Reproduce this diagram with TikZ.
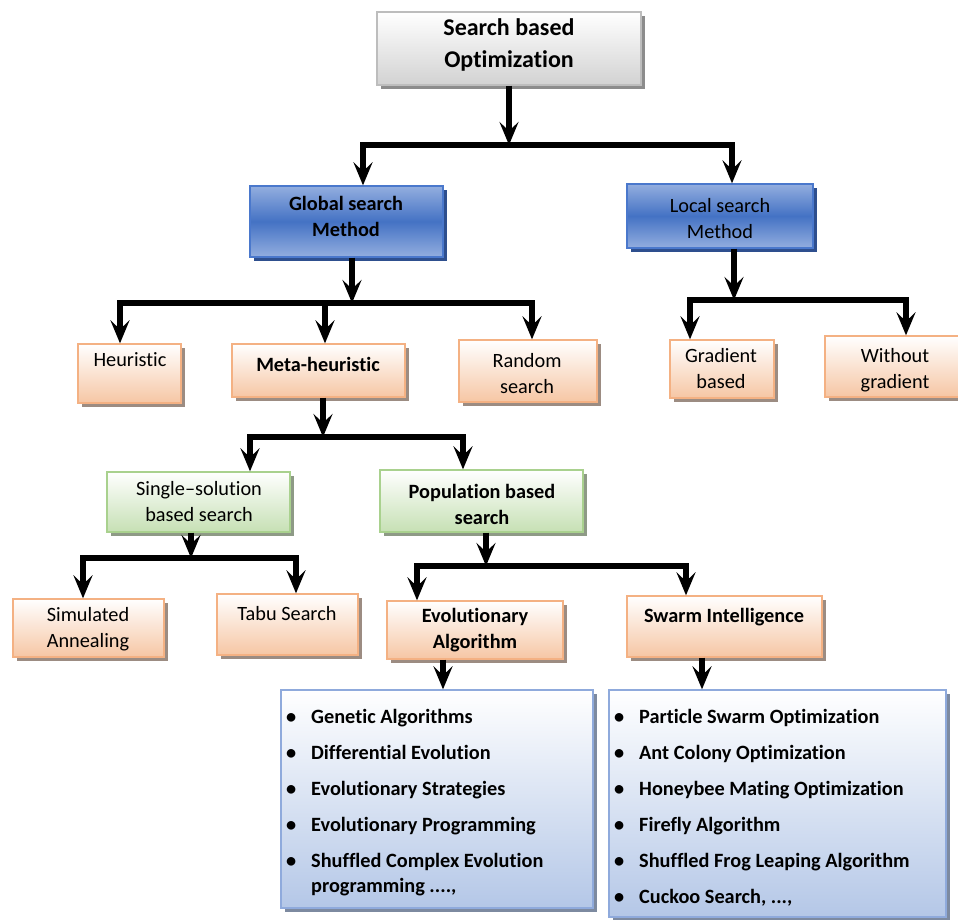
\documentclass[tikz,border=0pt]{standalone}
\usepackage{fontspec}
\setmainfont{Carlito}[Ligatures=NoCommon]
\usetikzlibrary{arrows.meta,shadows}
\definecolor{grayB}{HTML}{BDBDBD}
\definecolor{grayF}{HTML}{D2D2D2}
\definecolor{blueL}{HTML}{93AEDF}
\definecolor{blueD}{HTML}{4472C4}
\definecolor{blueB}{HTML}{4A78CC}
\definecolor{blueS}{HTML}{2E4F8E}
\definecolor{orF}{HTML}{F6C6A4}
\definecolor{orB}{HTML}{F4B183}
\definecolor{orS}{HTML}{9C8C82}
\definecolor{grF}{HTML}{C6E0B4}
\definecolor{grB}{HTML}{A9D18E}
\definecolor{grS}{HTML}{8E9A86}
\definecolor{liF}{HTML}{B4C7E7}
\definecolor{liB}{HTML}{8FAADC}
\definecolor{liS}{HTML}{7D8AA0}
\begin{document}
\begin{tikzpicture}[x=1pt,y=-1pt,
  box/.style={rectangle, draw, line width=1.3pt, inner sep=0pt},
  topbox/.style={box, draw=grayB, top color=white, bottom color=grayF,
    drop shadow={shadow xshift=4pt, shadow yshift=-4pt, fill=black!45, opacity=1}},
  bluebox/.style={box, draw=blueB, top color=blueL, bottom color=blueL, middle color=blueD,
    drop shadow={shadow xshift=4pt, shadow yshift=-4pt, fill=blueS, opacity=1}},
  orbox/.style={box, draw=orB, top color=white, bottom color=orF,
    drop shadow={shadow xshift=4pt, shadow yshift=-4pt, fill=orS, opacity=1}},
  grbox/.style={box, draw=grB, top color=white, bottom color=grF,
    drop shadow={shadow xshift=4pt, shadow yshift=-4pt, fill=grS, opacity=1}},
  libox/.style={box, draw=liB, top color=white, bottom color=liF,
    drop shadow={shadow xshift=4pt, shadow yshift=-4pt, fill=liS, opacity=1}},
  tx/.style={align=center, inner sep=0pt, font=\fontsize{20.3}{26}\selectfont},
  txb/.style={tx, font=\fontsize{20.3}{26}\selectfont\bfseries},
  arr/.style={line width=6pt, draw=black, line join=miter,
    -{Stealth[length=23pt,width=19pt,inset=9pt]}}
]
\fill[white] (0,0) rectangle (958,920);
\useasboundingbox (0,0) rectangle (958,920);

% boxes
\node[topbox, minimum width=264pt, minimum height=73pt] (top) at (509,48.5) {};
\node[bluebox, minimum width=193pt, minimum height=71pt] (glob) at (346.5,221.5) {};
\node[bluebox, minimum width=186pt, minimum height=64pt] (loc) at (720,216) {};
\node[orbox, minimum width=103pt, minimum height=59pt] (heur) at (129.5,373.5) {};
\node[orbox, minimum width=173pt, minimum height=53pt] (meta) at (318.5,370.5) {};
\node[orbox, minimum width=138pt, minimum height=62pt] (rand) at (528,371) {};
\node[orbox, minimum width=104pt, minimum height=58pt] (grad) at (722,369) {};
\node[orbox, minimum width=142pt, minimum height=61pt] (wgrad) at (896,366.5) {};
\node[grbox, minimum width=183pt, minimum height=60pt] (single) at (198.5,502) {};
\node[grbox, minimum width=203pt, minimum height=62pt] (pop) at (481.5,501) {};
\node[orbox, minimum width=151pt, minimum height=58pt] (sim) at (88.5,628) {};
\node[orbox, minimum width=141pt, minimum height=61pt] (tabu) at (287.5,624.5) {};
\node[orbox, minimum width=176pt, minimum height=58pt] (evo) at (475,630) {};
\node[orbox, minimum width=195pt, minimum height=61pt] (swarm) at (724.5,626.5) {};
\node[libox, minimum width=312pt, minimum height=218pt] (evl) at (437,799) {};
\node[libox, minimum width=337pt, minimum height=227pt] (swl) at (777.5,803.5) {};

% texts
\node[tx, font=\fontsize{24}{32}\selectfont\bfseries] (topT) at (509,45) {Search based\\Optimization};
\node[txb] (globT) at (346,216) {Global search\\Method};
\node[tx] (locT) at (720,219) {Local search\\Method};
\node[tx] (heurT) at (130,360) {Heuristic};
\node[txb] (metaT) at (318,364) {Meta-heuristic};
\node[tx] (randT) at (527,374) {Random\\search};
\node[tx] (gradT) at (721,369) {Gradient\\based};
\node[tx] (wgradT) at (895,370) {Without\\gradient};
\node[tx] (singleT) at (199,502) {Single–solution\\based search};
\node[txb] (popT) at (482,504) {Population based\\search};
\node[tx] (simT) at (88,629) {Simulated\\Annealing};
\node[tx] (tabuT) at (287,614) {Tabu Search};
\node[txb] (evoT) at (475,630) {Evolutionary\\Algorithm};
\node[txb] (swarmT) at (724,617) {Swarm Intelligence};

\node[anchor=base west, inner sep=0pt, font=\fontsize{20.3}{26}\selectfont\bfseries] (evlT) at (286,723)
 {\begin{tabular}[t]{@{}l@{}l@{}}
 \makebox[25pt][l]{•} & Genetic Algorithms\\[10pt]
 \makebox[25pt][l]{•} & Differential Evolution\\[10pt]
 \makebox[25pt][l]{•} & Evolutionary Strategies\\[10pt]
 \makebox[25pt][l]{•} & Evolutionary Programming\\[10pt]
 \makebox[25pt][l]{•} & Shuffled Complex Evolution\\[-1pt]
  & programming ....,
 \end{tabular}};
\node[anchor=base west, inner sep=0pt, font=\fontsize{20.3}{26}\selectfont\bfseries] (swlT) at (614,723)
 {\begin{tabular}[t]{@{}l@{}l@{}}
 \makebox[25pt][l]{•} & Particle Swarm Optimization\\[10pt]
 \makebox[25pt][l]{•} & Ant Colony Optimization\\[10pt]
 \makebox[25pt][l]{•} & Honeybee Mating Optimization\\[10pt]
 \makebox[25pt][l]{•} & Firefly Algorithm\\[10pt]
 \makebox[25pt][l]{•} & Shuffled Frog Leaping Algorithm\\[10pt]
 \makebox[25pt][l]{•} & Cuckoo Search, ...,
 \end{tabular}};

% junctions
\coordinate (j1) at (509,145);
\coordinate (j2) at (352,303);
\coordinate (j3) at (734,300);
\coordinate (j4) at (323,437);
\coordinate (j5) at (191,558);
\coordinate (j6) at (486,566);

% connectors
\draw[arr] (top.south -| j1) -- (j1);
\draw[arr] (j1) -| (glob.north -| 363,0);
\draw[arr] (j1) -| (loc.north -| 732,0);

\draw[arr] (glob.south -| j2) -- (j2);
\draw[arr] (j2) -| (heur.north -| 120,0);
\draw[arr] (j2) -| (meta.north -| 325,0);
\draw[arr] (j2) -| (rand.north -| 532,0);

\draw[arr] (loc.south -| j3) -- (j3);
\draw[arr] (j3) -| (grad.north -| 690,0);
\draw[arr] (j3) -| (wgrad.north -| 906,0);

\draw[arr] (meta.south -| j4) -- (j4);
\draw[arr] (j4) -| (single.north -| 250,0);
\draw[arr] (j4) -| (pop.north -| 463,0);

\draw[arr] (single.south -| j5) -- (j5);
\draw[arr] (j5) -| (sim.north -| 83,0);
\draw[arr] (j5) -| (tabu.north -| 296,0);

\draw[arr] (pop.south -| j6) -- (j6);
\draw[arr] (j6) -| (evo.north -| 417,0);
\draw[arr] (j6) -| (swarm.north -| 686,0);

\draw[arr] (evo.south -| 443,0) -- (evl.north -| 443,0);
\draw[arr] (swarm.south -| 702,0) -- (swl.north -| 702,0);
\end{tikzpicture}
\end{document}
